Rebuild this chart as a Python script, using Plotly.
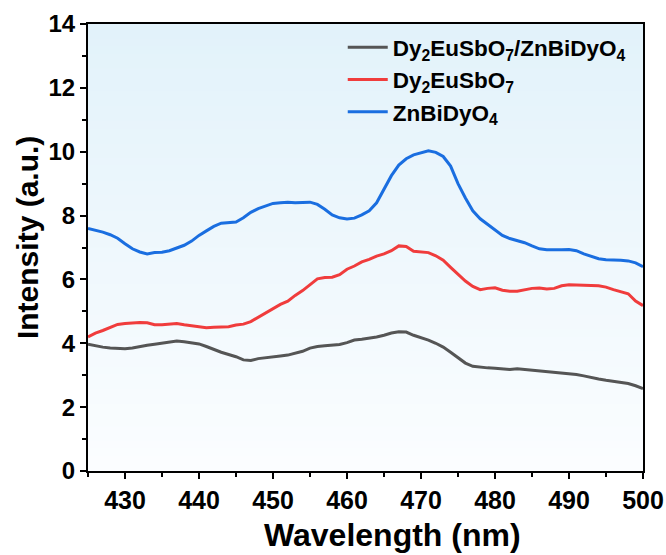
import plotly.graph_objects as go

wavelength = list(range(425, 501))

composite = [3.97, 3.92, 3.88, 3.85, 3.83, 3.83, 3.85, 3.90, 3.94, 3.97,
             4.00, 4.05, 4.07, 4.05, 4.02, 3.98, 3.90, 3.80, 3.72, 3.65,
             3.58, 3.48, 3.46, 3.52, 3.54, 3.56, 3.60, 3.63, 3.68, 3.75,
             3.85, 3.90, 3.92, 3.93, 3.96, 4.02, 4.10, 4.13, 4.16, 4.20,
             4.25, 4.32, 4.36, 4.35, 4.25, 4.18, 4.10, 4.00, 3.88, 3.72,
             3.55, 3.38, 3.28, 3.25, 3.23, 3.22, 3.20, 3.18, 3.20, 3.18,
             3.15, 3.13, 3.10, 3.08, 3.06, 3.05, 3.02, 2.98, 2.92, 2.88,
             2.84, 2.80, 2.78, 2.74, 2.67, 2.58]

dy2eusbo7 = [4.20, 4.32, 4.40, 4.50, 4.59, 4.62, 4.64, 4.65, 4.64, 4.58,
             4.58, 4.60, 4.62, 4.58, 4.55, 4.52, 4.49, 4.50, 4.52, 4.52,
             4.57, 4.60, 4.68, 4.82, 4.95, 5.10, 5.22, 5.32, 5.50, 5.65,
             5.85, 6.02, 6.06, 6.07, 6.15, 6.32, 6.42, 6.55, 6.63, 6.73,
             6.80, 6.90, 7.05, 7.03, 6.88, 6.86, 6.84, 6.74, 6.60, 6.38,
             6.15, 5.95, 5.78, 5.68, 5.72, 5.74, 5.66, 5.63, 5.63, 5.68,
             5.72, 5.73, 5.70, 5.72, 5.80, 5.83, 5.83, 5.82, 5.81, 5.80,
             5.76, 5.68, 5.62, 5.55, 5.32, 5.18]

znbidyo4 = [7.60, 7.55, 7.48, 7.40, 7.29, 7.12, 6.96, 6.86, 6.80, 6.84,
            6.85, 6.90, 6.98, 7.07, 7.20, 7.38, 7.52, 7.66, 7.76, 7.78,
            7.80, 7.93, 8.10, 8.22, 8.30, 8.38, 8.40, 8.42, 8.40, 8.40,
            8.42, 8.35, 8.20, 8.02, 7.93, 7.89, 7.92, 8.02, 8.15, 8.40,
            8.85, 9.25, 9.58, 9.78, 9.90, 9.97, 10.03, 9.98, 9.85, 9.55,
            9.00, 8.55, 8.15, 7.90, 7.72, 7.55, 7.38, 7.28, 7.22, 7.15,
            7.05, 6.96, 6.93, 6.92, 6.93, 6.94, 6.90, 6.80, 6.72, 6.65,
            6.62, 6.62, 6.60, 6.58, 6.52, 6.40]

series_names = ["Dy<sub>2</sub>EuSbO<sub>7</sub>/ZnBiDyO<sub>4</sub>",
                "Dy<sub>2</sub>EuSbO<sub>7</sub>",
                "ZnBiDyO<sub>4</sub>"]
series_values = [composite, dy2eusbo7, znbidyo4]
series_colors = ["#555555", "#f03c3c", "#1a6ee0"]

x_title = "Wavelength (nm)"
y_title = "Intensity (a.u.)"

fig = go.Figure()
for name, vals, col in zip(series_names, series_values, series_colors):
    fig.add_trace(go.Scatter(x=wavelength, y=vals, mode="lines", name=name,
                             line=dict(color=col, width=3)))

# vertical gradient background
n = 60
top = (226, 242, 250)
bot = (251, 253, 255)
shapes = []
for i in range(n):
    t = i / (n - 1)
    c = tuple(round(bot[k] + (top[k] - bot[k]) * t) for k in range(3))
    shapes.append(dict(type="rect", xref="x domain", yref="y domain",
                       x0=0, x1=1, y0=i / n, y1=(i + 1) / n + 0.002,
                       fillcolor="rgb(%d,%d,%d)" % c, line=dict(width=0),
                       layer="below"))

ff = "Liberation Sans, Arial, sans-serif"
fig.update_layout(
    width=666, height=555,
    margin=dict(l=88, r=23, t=24, b=84),
    paper_bgcolor="white", plot_bgcolor="white",
    shapes=shapes,
    font=dict(family=ff, color="black", weight="bold"),
    legend=dict(x=0.459, y=0.995, xanchor="left", yanchor="top",
                bgcolor="rgba(0,0,0,0)",
                font=dict(size=22.5, family=ff, weight="bold"),
                itemwidth=40),
    showlegend=True,
    annotations=[
        dict(text=x_title, xref="paper", yref="paper", x=0.548, y=-0.1432,
             xanchor="center", yanchor="middle", showarrow=False,
             font=dict(size=32, family=ff, weight="bold")),
        dict(text=y_title, xref="paper", yref="paper", x=-0.108, y=0.5213,
             xanchor="center", yanchor="middle", showarrow=False,
             textangle=-90, font=dict(size=30, family=ff, weight="bold")),
    ],
)
axis_common = dict(showline=True, mirror=True, linecolor="black", linewidth=2,
                   ticks="outside", ticklen=6, tickwidth=2, tickcolor="black",
                   showgrid=False, zeroline=False, automargin=False)
fig.update_xaxes(range=[425, 500], dtick=10, tick0=430,
                 minor=dict(ticks="outside", ticklen=4, tickwidth=2, dtick=5,
                            tick0=425, tickcolor="black"),
                 tickfont=dict(size=25, family=ff, weight="bold"),
                 **axis_common)
fig.update_yaxes(range=[0, 14], dtick=2,
                 minor=dict(ticks="outside", ticklen=4, tickwidth=2, dtick=1,
                            tickcolor="black"),
                 tickfont=dict(size=24, family=ff, weight="bold"),
                 **axis_common)

fig.write_html("out.html")
